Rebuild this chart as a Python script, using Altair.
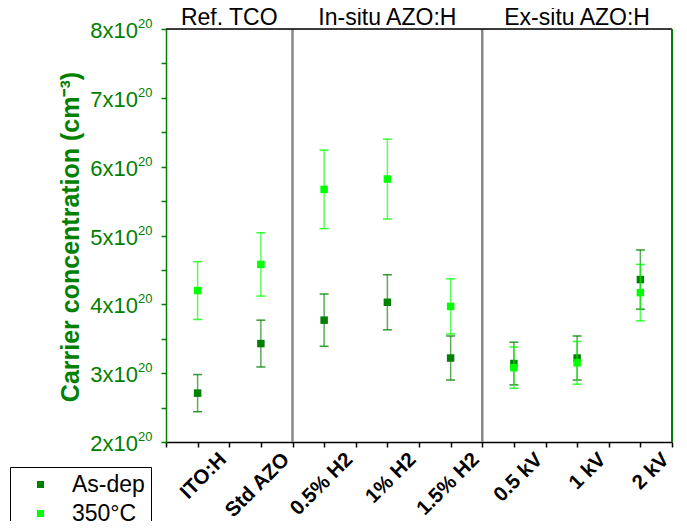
import altair as alt
import pandas as pd

# ---- data (carrier concentration in units of 1e20 cm^-3) ----
categories = ["ITO:H", "Std AZO", "0.5% H2", "1% H2", "1.5% H2", "0.5 kV", "1 kV", "2 kV"]
positions = [1, 3, 5, 7, 9, 11, 13, 15]
asdep_val = [2.71, 3.43, 3.77, 4.03, 3.22, 3.14, 3.22, 4.36]
asdep_err = [0.27, 0.34, 0.38, 0.40, 0.32, 0.31, 0.32, 0.43]
ann_val = [4.20, 4.58, 5.67, 5.82, 3.97, 3.08, 3.15, 4.17]
ann_err = [0.42, 0.46, 0.57, 0.58, 0.40, 0.30, 0.31, 0.41]
series_names = ["As-dep", "350°C"]
series_colors = ["#008000", "#00ff00"]
groups = ["Ref. TCO", "In-situ AZO:H", "Ex-situ AZO:H"]
group_centers = [2, 7, 13]
dividers = [4, 10]
y_major = [2, 3, 4, 5, 6, 7, 8]
y_all_ticks = [2, 2.5, 3, 3.5, 4, 4.5, 5, 5.5, 6, 6.5, 7, 7.5, 8]

W, H = 506, 413
FONT = "Liberation Sans"

rows = []
for name, vals, errs in [(series_names[0], asdep_val, asdep_err), (series_names[1], ann_val, ann_err)]:
    for c, p, v, e in zip(categories, positions, vals, errs):
        rows.append({"cat": c, "pos": p, "val": v, "lo": v - e, "hi": v + e, "series": name})
df = pd.DataFrame(rows)

label_expr = "".join(f"datum.value == {p} ? '{c}' : " for p, c in zip(positions, categories)) + "''"

xscale = alt.Scale(domain=[0, 16], nice=False, zero=False)
yscale = alt.Scale(domain=[2, 8], nice=False, zero=False)

x_axis = alt.Axis(
    values=list(range(0, 17)),
    labelExpr=label_expr,
    labelAngle=315, labelAlign="right", labelBaseline="middle",
    labelOffset=25, labelPadding=9, labelFont=FONT, labelFontSize=20.5,
    labelFontWeight="bold", labelColor="black", labelOverlap=False, labelFlush=False,
    labelBound=False,
    tickSize=5, tickColor="black", domainColor="black", domainWidth=1.5, tickWidth=1.5,
    grid=False, title=None,
)
y_axis = alt.Axis(
    values=y_all_ticks, labels=False, tickSize=5, tickColor="#008000", tickWidth=1.5,
    domainColor="#008000", domainWidth=1.5, grid=False,
    title="Carrier concentration (cm⁻³)", titleFont=FONT, titleFontSize=25,
    titleFontWeight="bold", titleColor="#008000", titleAngle=270,
    titleAlign="center", titleBaseline="middle", titleX=-96, titleY=H / 2 + 1,
)

base = alt.Chart(df)
color = alt.Color(
    "series:N",
    scale=alt.Scale(domain=series_names, range=series_colors),
    legend=alt.Legend(
        title=None, orient="none", legendX=-156, legendY=438,
        strokeColor="black", fillColor="white", padding=6,
        symbolType="square", symbolSize=49, symbolStrokeWidth=0,
        symbolOffset=13, labelOffset=20,
        labelFont=FONT, labelFontSize=23, labelColor="black",
        rowPadding=5, labelLimit=200,
    ),
)

X = lambda f: alt.X(f, scale=xscale, axis=x_axis)
Y = lambda f: alt.Y(f, scale=yscale, axis=y_axis)

layers = []
# dividers
div_df = pd.DataFrame({"d": dividers})
layers.append(
    alt.Chart(div_df).mark_rule(color="#888888", strokeWidth=2.5).encode(x=X("d:Q"))
)
for i, s in enumerate(series_names):
    sub = base.transform_filter(alt.datum.series == s)
    col = series_colors[i]
    layers.append(
        sub.mark_rule(color=col, strokeWidth=1.5, opacity=0.65).encode(
            x=X("pos:Q"), y=Y("lo:Q"), y2="hi:Q",
        )
    )
    for fld in ["lo", "hi"]:
        layers.append(
            sub.mark_tick(color=col, orient="horizontal", size=9, thickness=1.5, opacity=0.8).encode(
                x=X("pos:Q"), y=Y(f"{fld}:Q"),
            )
        )
    layers.append(
        sub.mark_square(size=56, opacity=1).encode(
            x=X("pos:Q"), y=Y("val:Q"), color=color,
        )
    )

# frame: top (black) and right (green)
layers.append(
    alt.Chart(pd.DataFrame({"a": [0]})).mark_rule(color="black", strokeWidth=1.5).encode(
        x=alt.value(0), x2=alt.value(W), y=alt.value(0)
    )
)
layers.append(
    alt.Chart(pd.DataFrame({"a": [0]})).mark_rule(color="#008000", strokeWidth=2).encode(
        x=alt.value(W), y=alt.value(0), y2=alt.value(H)
    )
)

# group labels
grp_df = pd.DataFrame({"g": groups, "c": group_centers})
layers.append(
    alt.Chart(grp_df).mark_text(font=FONT, fontSize=23, color="black", baseline="alphabetic", align="center").encode(
        x=X("c:Q"), y=alt.value(-4), text="g:N"
    )
)

# y tick labels with superscript
ylab_df = pd.DataFrame({"v": y_major, "t": [f"{v}x10" for v in y_major], "s": ["20"] * len(y_major)})
layers.append(
    alt.Chart(ylab_df).mark_text(font=FONT, fontSize=22, color="#008000", align="right", baseline="middle", dy=2).encode(
        x=alt.value(-28), y=Y("v:Q"), text="t:N"
    )
)
layers.append(
    alt.Chart(ylab_df).mark_text(font=FONT, fontSize=13, color="#008000", align="left", baseline="middle", dy=-5).encode(
        x=alt.value(-28), y=Y("v:Q"), text="s:N"
    )
)

chart = alt.layer(*layers).properties(
    width=W, height=H,
    autosize=alt.AutoSizeParams(type="none"),
    padding={"left": 158, "top": 21, "right": 7, "bottom": 79},
).configure_view(stroke=None).configure(background="white")

chart.save("out.html", embed_options={"renderer": "svg", "actions": False})
